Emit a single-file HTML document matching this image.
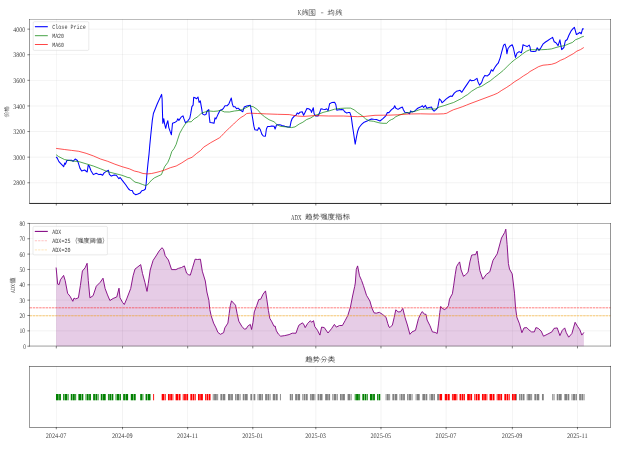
<!DOCTYPE html>
<html><head><meta charset="utf-8"><title>chart</title>
<style>html,body{margin:0;padding:0;background:#fff;}svg{display:block;font-family:"Liberation Serif",serif;will-change:transform;}svg text{text-rendering:geometricPrecision;}</style></head><body>
<svg width="627" height="451" viewBox="0 0 627 451">
<rect x="0" y="0" width="627" height="451" fill="#ffffff"/>
<defs>
<path id="g_xian" d="M3,1 L1.5,3.5 L3.5,3.5 L1,6.5 L3.8,6 M0.8,9 L3.8,7.8 M4.5,3.5 L9,3 M4.5,5.8 L9,5.2 M6,1 Q6.5,6 9.5,9.5 M9,6.5 L7,9 M8,1 L9,2" fill="none" stroke="#000" stroke-width="0.8" stroke-linecap="round" stroke-linejoin="round"/>
<path id="g_tu" d="M1,1 H9 V9.5 H1 Z M4.5,2.5 L3,4.5 M4,3 H6.5 L3,7 M4.5,4.5 L7.5,7 M4.5,6.5 L6,7.2 M4.5,8 L6,8.6" fill="none" stroke="#000" stroke-width="0.8" stroke-linecap="round" stroke-linejoin="round"/>
<path id="g_jun" d="M0.8,4 H4 M2.4,1.5 V7.5 M0.5,8 L4.2,7 M6,1 L4.8,4 M5.5,2.5 H9 Q9.3,8 8.5,9.5 L7.5,9 M6,4.5 L7,5.2 M5.3,7.2 L7.5,6.2" fill="none" stroke="#000" stroke-width="0.8" stroke-linecap="round" stroke-linejoin="round"/>
<path id="g_qu" d="M1,2.5 H4.5 M2.7,1 V4.5 M0.8,4.5 H4.8 M2.7,4.5 V7.5 M2.7,6 H4.3 M1.5,6 Q1.5,8 0.5,9 M1.5,7.8 Q4,9.5 9.5,9.3 M6.5,1 L5.3,3 M6,2 H8.5 L8,3.5 M5.5,4 H9 V7.5 H5.5 M5.8,5.7 H9" fill="none" stroke="#000" stroke-width="0.8" stroke-linecap="round" stroke-linejoin="round"/>
<path id="g_shi" d="M0.8,2.5 H4 M2.4,1 V5 Q2.4,5.5 1.6,5.3 M0.8,4.6 L4,3.6 M5,2.5 H8 Q8,5 9.5,5.2 M6.5,1 Q6.5,4 4.5,5.5 M6,3.8 L7,4.5 M1.5,7 H8 Q8,9.5 6.5,9.5 M4.8,5.8 Q4.5,8.5 1.2,9.6" fill="none" stroke="#000" stroke-width="0.8" stroke-linecap="round" stroke-linejoin="round"/>
<path id="g_qiang" d="M0.8,1.5 H3.5 V3.5 H1 V5.5 H3.8 Q3.8,9 2.5,9.3 M5.2,1.2 H9 V3.2 H5.2 Z M5,4.5 H9.2 V6.8 H5 Z M7.1,3.2 V8.6 M4.8,8.8 L9.5,8.4 M8.6,7.6 L9.4,9" fill="none" stroke="#000" stroke-width="0.8" stroke-linecap="round" stroke-linejoin="round"/>
<path id="g_du" d="M5,0.5 V1.6 M1.5,1.6 H9.5 M1.5,1.6 Q1.5,7 0.5,9.5 M2.8,3.5 H9 M4.2,2.5 V5.3 M7.2,2.5 V5.3 M4.2,5.3 H7.2 M3.2,6.5 H8 Q6.5,9 2.5,9.7 M4,7 Q6,9 9.5,9.6" fill="none" stroke="#000" stroke-width="0.8" stroke-linecap="round" stroke-linejoin="round"/>
<path id="g_zhi3" d="M0.6,2.8 H3.8 M2.2,0.8 V8.6 Q2.2,9.3 1.2,9 M0.6,6 L3.8,4.8 M5.2,0.8 V3.3 Q5.2,4 9,3.8 V3 M8.5,1.2 L5.2,2.4 M5.2,5 H9 V9.3 H5.2 Z M5.2,7.1 H9" fill="none" stroke="#000" stroke-width="0.8" stroke-linecap="round" stroke-linejoin="round"/>
<path id="g_biao" d="M0.5,3 H4.2 M2.3,0.8 V9.5 M2.3,3.2 Q1.8,5.5 0.4,6.8 M2.4,3.8 L3.8,5.4 M5.3,1.8 H8.8 M4.6,4.2 H9.6 M7.1,4.2 V9 Q7.1,9.6 6.2,9.3 M5.6,5.8 L4.6,8.2 M8.6,5.8 L9.6,8" fill="none" stroke="#000" stroke-width="0.8" stroke-linecap="round" stroke-linejoin="round"/>
<path id="g_fen" d="M4,1 Q3,4 0.5,5.8 M6,1 Q7,4 9.7,5.6 M2.8,5.5 H7.5 Q7.5,9.3 6.2,9.4 M4.8,5.5 Q4.5,8.5 1.8,9.6" fill="none" stroke="#000" stroke-width="0.8" stroke-linecap="round" stroke-linejoin="round"/>
<path id="g_lei" d="M5,0.6 V5.2 M1,3 H9 M2.6,1 L3.6,2.3 M7.4,1 L6.4,2.3 M4.8,3.2 Q3.5,4.8 0.8,5.4 M5.2,3.2 Q6.5,4.8 9.2,5.2 M0.8,6.8 H9.2 M5,5.6 Q4.8,8.5 0.8,9.6 M5.1,7 Q6.5,9 9.4,9.6" fill="none" stroke="#000" stroke-width="0.8" stroke-linecap="round" stroke-linejoin="round"/>
<path id="g_jia" d="M2.8,0.8 Q2,3 0.5,4.6 M2,3.2 V9.6 M6.5,0.8 Q5.5,3.2 3.6,4.6 M6.6,1 Q7.5,3 9.7,4.4 M5.3,4.8 Q5.3,8 4,9.5 M7.9,4.8 V9.6" fill="none" stroke="#000" stroke-width="0.8" stroke-linecap="round" stroke-linejoin="round"/>
<path id="g_ge" d="M0.5,3 H4.2 M2.3,0.8 V9.5 M2.3,3.2 Q1.8,5.5 0.4,6.8 M2.4,3.8 L3.8,5.4 M6.3,0.8 Q5.8,2.2 4.6,3.2 M6,1.8 H8.6 Q7.5,4.2 4.4,5.6 M5.8,2.8 Q7.2,4.5 9.8,5.4 M5.4,6.2 H8.9 V9.4 H5.4 Z" fill="none" stroke="#000" stroke-width="0.8" stroke-linecap="round" stroke-linejoin="round"/>
<path id="g_zhi2" d="M2.8,0.8 Q2,3 0.5,4.6 M2,3.2 V9.6 M3.8,2 H9.6 M6.7,0.6 V3 M4.8,3.2 H8.8 V8.6 H4.8 Z M4.8,5 H8.8 M4.8,6.8 H8.8 M3.6,9.4 H9.8" fill="none" stroke="#000" stroke-width="0.8" stroke-linecap="round" stroke-linejoin="round"/>
<path id="g_yu" d="M1.2,0.8 L2,1.8 M1,2.6 V9.6 M3,1.4 H9 V9 Q9,9.6 8,9.4 M2.6,4 H7.8 M3,5.2 H5 V6.8 H3 Z M2.6,8.4 L5.2,7.8 M5.8,2.8 Q6.2,6.5 8,8.6 M7.6,5.6 L6,8.2 M7,3 L7.6,3.6" fill="none" stroke="#000" stroke-width="0.8" stroke-linecap="round" stroke-linejoin="round"/>
<path id="g_lp" d="M3.8,0.5 Q1.0,5 3.8,9.8" fill="none" stroke="#000" stroke-width="0.8" stroke-linecap="round" stroke-linejoin="round"/>
<path id="g_rp" d="M1.2,0.5 Q4.0,5 1.2,9.8" fill="none" stroke="#000" stroke-width="0.8" stroke-linecap="round" stroke-linejoin="round"/>
</defs>
<line x1="56.30" y1="19.3" x2="56.30" y2="203.3" stroke="#b0b0b0" stroke-width="0.5" opacity="0.3"/>
<line x1="122.52" y1="19.3" x2="122.52" y2="203.3" stroke="#b0b0b0" stroke-width="0.5" opacity="0.3"/>
<line x1="187.66" y1="19.3" x2="187.66" y2="203.3" stroke="#b0b0b0" stroke-width="0.5" opacity="0.3"/>
<line x1="252.81" y1="19.3" x2="252.81" y2="203.3" stroke="#b0b0b0" stroke-width="0.5" opacity="0.3"/>
<line x1="315.82" y1="19.3" x2="315.82" y2="203.3" stroke="#b0b0b0" stroke-width="0.5" opacity="0.3"/>
<line x1="380.97" y1="19.3" x2="380.97" y2="203.3" stroke="#b0b0b0" stroke-width="0.5" opacity="0.3"/>
<line x1="446.12" y1="19.3" x2="446.12" y2="203.3" stroke="#b0b0b0" stroke-width="0.5" opacity="0.3"/>
<line x1="512.34" y1="19.3" x2="512.34" y2="203.3" stroke="#b0b0b0" stroke-width="0.5" opacity="0.3"/>
<line x1="577.48" y1="19.3" x2="577.48" y2="203.3" stroke="#b0b0b0" stroke-width="0.5" opacity="0.3"/>
<line x1="29.6" y1="182.77" x2="610.5" y2="182.77" stroke="#b0b0b0" stroke-width="0.5" opacity="0.3"/>
<line x1="29.6" y1="157.16" x2="610.5" y2="157.16" stroke="#b0b0b0" stroke-width="0.5" opacity="0.3"/>
<line x1="29.6" y1="131.55" x2="610.5" y2="131.55" stroke="#b0b0b0" stroke-width="0.5" opacity="0.3"/>
<line x1="29.6" y1="105.95" x2="610.5" y2="105.95" stroke="#b0b0b0" stroke-width="0.5" opacity="0.3"/>
<line x1="29.6" y1="80.34" x2="610.5" y2="80.34" stroke="#b0b0b0" stroke-width="0.5" opacity="0.3"/>
<line x1="29.6" y1="54.74" x2="610.5" y2="54.74" stroke="#b0b0b0" stroke-width="0.5" opacity="0.3"/>
<line x1="29.6" y1="29.13" x2="610.5" y2="29.13" stroke="#b0b0b0" stroke-width="0.5" opacity="0.3"/>
<clipPath id="c1"><rect x="29.6" y="19.3" width="580.90" height="184.00"/></clipPath>
<g clip-path="url(#c1)">
<polyline points="56.1,157.0 57.2,158.0 58.9,161.6 61.3,164.2 63.7,166.7 64.7,163.1 65.4,164.2 66.9,160.5 69.5,160.2 71.6,160.2 73.1,161.3 75.2,159.0 77.4,160.5 78.4,163.1 79.9,168.1 81.7,171.0 84.6,170.0 87.2,172.0 88.2,165.2 89.2,166.0 91.1,171.0 93.3,174.6 96.2,173.2 99.0,174.6 100.8,174.3 102.6,175.3 104.1,172.9 106.3,171.4 108.4,170.3 109.4,174.3 111.3,176.1 114.2,174.9 116.3,175.3 118.9,178.7 120.2,177.5 122.1,180.1 125.7,184.7 128.6,189.0 130.0,190.2 132.2,190.5 133.6,193.4 135.8,194.8 137.9,194.1 140.1,193.1 141.8,190.8 143.7,190.2 145.4,189.0 146.2,183.3 147.0,173.2 148.0,163.1 149.0,154.4 149.8,145.0 150.8,134.8 152.3,120.4 153.4,113.5 157.3,103.8 161.6,94.4 162.1,98.8 162.5,113.2 162.8,123.3 163.8,118.7 164.5,123.3 165.7,128.3 166.7,124.0 167.8,120.7 168.8,127.6 170.3,131.9 171.4,134.8 172.5,123.3 174.6,122.6 176.8,121.1 177.8,118.7 178.9,120.4 181.1,117.2 183.0,115.8 184.0,118.9 185.4,122.6 187.6,121.1 189.8,118.2 190.8,113.2 191.9,106.7 193.1,105.2 193.7,97.3 195.5,98.0 196.5,98.8 198.0,97.0 199.1,102.4 200.3,100.9 201.7,108.8 202.5,113.9 204.2,114.9 205.9,114.6 207.1,111.0 208.8,109.6 209.2,116.1 210.0,122.6 212.1,122.8 214.0,123.3 215.0,117.8 216.0,118.9 217.9,114.6 220.0,110.6 222.2,109.6 223.6,108.1 225.0,105.7 227.2,105.7 228.9,103.8 230.1,100.9 231.3,98.0 232.3,103.8 233.3,106.7 235.1,106.7 236.6,108.8 238.0,108.1 240.2,110.0 242.8,111.7 244.2,107.1 246.7,106.0 250.3,105.2 251.0,108.8 252.5,117.5 253.9,126.2 254.9,129.8 257.5,130.2 258.9,127.6 260.4,129.8 261.8,134.1 263.3,136.0 265.4,136.3 266.4,129.0 267.6,126.4 269.8,126.4 271.9,125.9 274.1,126.2 275.1,129.0 276.5,125.0 277.7,124.7 279.9,124.7 282.0,125.4 284.9,126.2 287.8,126.9 290.0,126.9 291.0,121.8 292.1,118.7 294.3,116.1 296.0,115.3 297.2,112.9 298.6,113.9 300.0,112.2 302.2,111.7 303.6,115.3 305.0,112.4 306.9,108.4 308.7,108.8 310.8,110.2 311.5,112.4 313.3,107.8 314.1,113.8 315.6,116.0 318.0,116.0 319.5,113.1 320.9,108.8 323.1,109.2 325.2,109.5 326.7,108.8 328.1,110.7 329.6,103.8 331.7,102.6 334.6,102.3 335.8,104.5 336.8,110.2 338.9,109.8 341.8,109.5 343.3,109.8 344.7,111.7 346.9,113.1 348.3,112.4 349.8,112.4 351.2,116.4 352.2,123.9 353.7,134.0 355.2,144.1 356.5,136.9 357.7,131.2 359.1,127.5 361.3,124.7 364.2,122.2 367.1,121.1 369.2,119.9 371.4,118.9 373.6,119.3 376.4,119.6 380.0,121.0 382.9,118.7 385.8,115.8 387.4,112.6 388.9,112.6 391.5,109.7 393.7,108.0 394.7,105.7 395.9,108.3 398.0,109.4 400.2,108.0 402.4,107.1 403.4,109.7 404.8,112.3 407.4,112.6 409.6,113.8 410.6,110.9 412.0,111.9 414.6,111.2 416.8,109.0 418.2,108.0 420.4,107.1 422.5,105.7 423.6,107.5 425.4,105.4 426.9,108.3 429.0,107.5 431.6,107.1 432.6,109.7 434.1,111.2 436.3,109.4 437.7,107.5 438.4,103.9 439.4,98.9 440.9,100.3 442.0,102.8 444.2,100.8 446.3,98.9 448.9,97.0 450.7,96.0 452.1,96.4 454.3,93.1 456.4,91.3 458.6,90.7 460.0,90.3 461.8,92.3 464.3,88.4 467.2,84.1 470.1,79.8 471.5,80.8 474.4,80.2 477.0,78.3 478.0,81.9 479.5,85.1 481.6,82.6 483.1,78.3 484.8,75.4 487.4,75.9 489.6,74.0 491.4,69.7 492.9,71.1 494.6,67.8 496.8,64.6 498.2,63.2 500.1,58.1 501.8,51.6 503.6,45.1 505.0,44.1 506.2,48.0 506.9,53.8 507.9,48.8 509.8,46.2 512.2,44.7 513.4,48.0 514.5,53.1 515.5,57.4 517.0,53.1 519.1,51.6 521.3,52.8 522.3,49.5 523.0,44.7 524.9,45.6 527.1,46.6 529.2,45.1 530.0,47.0 530.8,51.3 533.6,51.5 535.8,51.2 537.2,47.8 539.0,50.4 541.0,47.6 543.2,43.8 545.5,42.0 547.5,40.8 550.2,38.9 552.6,37.4 554.2,41.7 556.0,42.7 558.1,45.6 559.9,39.8 560.6,43.8 561.7,49.6 563.9,47.5 565.3,41.0 567.2,39.5 568.9,35.2 571.1,30.9 573.0,28.7 574.4,27.3 575.4,30.9 576.4,34.5 578.3,33.5 579.8,32.3 581.2,33.8 582.6,28.7 583.8,29.1" fill="none" stroke="#0000ff" stroke-width="1.05" stroke-linejoin="round" stroke-linecap="butt" opacity="1"/>
<polyline points="56.1,154.7 58.7,156.6 64.4,159.5 71.6,160.9 78.8,161.6 86.1,163.8 93.3,166.0 100.5,168.8 107.7,171.7 114.9,173.5 122.1,175.3 127.9,177.5 130.0,177.8 132.9,180.4 135.0,182.1 138.7,183.0 142.3,184.4 145.1,185.4 147.3,185.0 149.5,182.5 151.6,180.1 154.5,177.8 158.1,176.1 161.4,174.6 162.9,171.0 164.6,166.7 167.8,162.4 169.7,158.0 171.8,151.5 174.0,148.7 176.2,144.3 177.8,139.1 179.7,133.4 182.5,128.3 185.9,123.0 188.3,121.8 191.2,121.8 194.1,118.9 197.7,116.8 201.3,113.2 204.9,112.0 209.2,111.0 213.6,111.4 217.9,111.0 220.5,110.2 224.3,111.9 229.4,112.0 234.4,111.0 240.2,110.3 245.2,108.1 249.6,106.0 253.2,106.7 257.5,109.6 261.1,113.9 264.7,116.8 269.0,119.7 274.1,121.8 277.0,124.7 280.6,126.4 286.3,126.9 291.4,127.6 295.0,126.9 299.3,124.0 302.9,122.2 306.5,119.6 310.8,117.9 314.4,115.6 318.8,114.1 323.1,112.4 328.8,111.0 334.6,109.2 340.4,108.4 346.2,108.1 350.5,108.1 354.1,109.8 357.7,112.7 362.0,115.6 365.6,118.9 369.2,120.8 373.6,121.3 377.9,122.5 380.0,123.0 383.0,123.3 386.8,123.3 388.8,121.0 391.5,119.5 393.0,119.0 395.9,116.6 400.2,114.8 404.5,113.3 410.3,112.3 416.1,110.9 420.4,109.4 426.2,109.0 431.9,109.0 435.5,109.0 439.1,107.1 444.9,105.4 449.2,103.9 453.6,102.5 457.9,100.3 461.5,98.5 465.1,96.0 467.6,94.6 471.5,91.3 477.3,87.7 481.6,86.3 486.0,83.4 490.3,80.8 494.6,77.3 498.9,74.0 503.3,70.4 506.9,66.8 510.5,63.2 514.8,59.6 519.1,56.7 522.7,53.8 526.3,51.3 530.0,49.7 535.8,49.8 541.5,49.7 547.3,49.4 551.6,48.9 556.0,47.5 560.3,46.4 564.6,45.6 568.9,43.8 572.5,42.4 575.4,39.8 579.0,38.4 581.9,36.9 583.8,36.3" fill="none" stroke="#008000" stroke-width="0.8" stroke-linejoin="round" stroke-linecap="butt" opacity="0.85"/>
<polyline points="56.1,148.4 64.4,149.5 71.6,150.4 78.8,151.3 86.1,153.3 93.3,155.9 100.5,159.0 107.7,161.3 114.9,164.2 122.1,166.7 129.3,168.8 134.3,171.0 138.7,172.0 143.0,173.5 147.3,173.9 151.6,173.5 156.0,172.5 160.3,171.4 164.6,170.0 170.4,167.7 176.2,166.0 181.9,162.8 187.7,159.0 192.0,157.3 196.3,153.7 200.7,150.4 203.6,147.2 207.1,145.0 210.7,142.7 215.0,140.3 219.3,137.9 221.0,136.5 223.6,133.6 226.5,130.8 230.1,127.2 233.7,124.0 237.3,120.4 240.9,117.5 243.8,115.8 246.7,113.5 250.3,113.2 257.5,113.5 266.2,113.9 277.7,114.3 289.2,114.6 297.9,116.1 303.7,116.4 314.4,115.6 328.8,116.0 343.3,116.0 357.7,116.7 364.9,116.4 375.0,115.3 383.7,115.2 388.7,115.2 397.3,114.8 408.8,114.0 420.4,113.8 429.0,114.0 437.7,114.0 443.5,113.8 446.6,113.3 450.0,111.4 453.6,109.7 457.9,108.3 462.2,106.8 466.5,105.1 470.0,103.7 493.2,95.0 497.5,93.2 501.8,90.3 506.2,87.7 510.5,84.8 514.8,81.6 519.1,79.0 523.5,75.9 527.8,73.3 530.0,71.5 534.3,69.1 538.7,66.6 543.0,65.2 547.3,64.8 551.6,64.3 556.0,62.9 560.3,60.4 564.6,58.6 568.9,56.1 573.3,53.7 576.9,51.1 580.5,49.6 583.8,47.5" fill="none" stroke="#ff0000" stroke-width="0.8" stroke-linejoin="round" stroke-linecap="butt" opacity="0.85"/>
</g>
<line x1="29.6" y1="19.03" x2="29.6" y2="203.57" stroke="#000" stroke-width="0.58" opacity="0.75"/>
<line x1="610.6" y1="19.03" x2="610.6" y2="203.57" stroke="#000" stroke-width="0.58" opacity="0.8"/>
<line x1="29.33" y1="19.35" x2="610.87" y2="19.35" stroke="#000" stroke-width="0.58" opacity="0.55"/>
<line x1="29.33" y1="203.45" x2="610.87" y2="203.45" stroke="#000" stroke-width="0.85" opacity="1.0"/>
<line x1="56.30" y1="203.3" x2="56.30" y2="205.50" stroke="#000" stroke-width="0.5"/>
<line x1="122.52" y1="203.3" x2="122.52" y2="205.50" stroke="#000" stroke-width="0.5"/>
<line x1="187.66" y1="203.3" x2="187.66" y2="205.50" stroke="#000" stroke-width="0.5"/>
<line x1="252.81" y1="203.3" x2="252.81" y2="205.50" stroke="#000" stroke-width="0.5"/>
<line x1="315.82" y1="203.3" x2="315.82" y2="205.50" stroke="#000" stroke-width="0.5"/>
<line x1="380.97" y1="203.3" x2="380.97" y2="205.50" stroke="#000" stroke-width="0.5"/>
<line x1="446.12" y1="203.3" x2="446.12" y2="205.50" stroke="#000" stroke-width="0.5"/>
<line x1="512.34" y1="203.3" x2="512.34" y2="205.50" stroke="#000" stroke-width="0.5"/>
<line x1="577.48" y1="203.3" x2="577.48" y2="205.50" stroke="#000" stroke-width="0.5"/>
<line x1="27.40" y1="182.77" x2="29.6" y2="182.77" stroke="#000" stroke-width="0.5"/>
<text x="25.1" y="185.47" font-size="7" text-anchor="end" fill="#000" opacity="0.78" textLength="11.8" lengthAdjust="spacingAndGlyphs">2800</text>
<line x1="27.40" y1="157.16" x2="29.6" y2="157.16" stroke="#000" stroke-width="0.5"/>
<text x="25.1" y="159.86" font-size="7" text-anchor="end" fill="#000" opacity="0.78" textLength="11.8" lengthAdjust="spacingAndGlyphs">3000</text>
<line x1="27.40" y1="131.55" x2="29.6" y2="131.55" stroke="#000" stroke-width="0.5"/>
<text x="25.1" y="134.25" font-size="7" text-anchor="end" fill="#000" opacity="0.78" textLength="11.8" lengthAdjust="spacingAndGlyphs">3200</text>
<line x1="27.40" y1="105.95" x2="29.6" y2="105.95" stroke="#000" stroke-width="0.5"/>
<text x="25.1" y="108.65" font-size="7" text-anchor="end" fill="#000" opacity="0.78" textLength="11.8" lengthAdjust="spacingAndGlyphs">3400</text>
<line x1="27.40" y1="80.34" x2="29.6" y2="80.34" stroke="#000" stroke-width="0.5"/>
<text x="25.1" y="83.04" font-size="7" text-anchor="end" fill="#000" opacity="0.78" textLength="11.8" lengthAdjust="spacingAndGlyphs">3600</text>
<line x1="27.40" y1="54.74" x2="29.6" y2="54.74" stroke="#000" stroke-width="0.5"/>
<text x="25.1" y="57.44" font-size="7" text-anchor="end" fill="#000" opacity="0.78" textLength="11.8" lengthAdjust="spacingAndGlyphs">3800</text>
<line x1="27.40" y1="29.13" x2="29.6" y2="29.13" stroke="#000" stroke-width="0.5"/>
<text x="25.1" y="31.83" font-size="7" text-anchor="end" fill="#000" opacity="0.78" textLength="11.8" lengthAdjust="spacingAndGlyphs">4000</text>
<rect x="33.2" y="21.7" width="55.6" height="28.7" rx="1.2" fill="#fff" fill-opacity="0.8" stroke="#ccc" stroke-width="0.5" stroke-opacity="0.8"/>
<line x1="34.9" y1="26.7" x2="47.8" y2="26.7" stroke="#0000ff" stroke-width="1.1" opacity="1"/>
<text x="52.2" y="29.40" font-size="6.3" font-family="Liberation Mono, monospace" fill="#000" opacity="0.78" textLength="33.6" lengthAdjust="spacingAndGlyphs">Close Price</text>
<line x1="34.9" y1="35.7" x2="47.8" y2="35.7" stroke="#008000" stroke-width="1.0" opacity="0.72"/>
<text x="52.2" y="38.40" font-size="6.3" font-family="Liberation Mono, monospace" fill="#000" opacity="0.78" textLength="11.8" lengthAdjust="spacingAndGlyphs">MA20</text>
<line x1="34.9" y1="44.5" x2="47.8" y2="44.5" stroke="#ff0000" stroke-width="1.0" opacity="0.72"/>
<text x="52.2" y="47.20" font-size="6.3" font-family="Liberation Mono, monospace" fill="#000" opacity="0.78" textLength="11.8" lengthAdjust="spacingAndGlyphs">MA60</text>
<text x="297.8" y="15.20" font-size="7.5" fill="#000" opacity="0.78" textLength="3.4" lengthAdjust="spacingAndGlyphs">K</text>
<use href="#g_xian" transform="translate(301.35,8.90) scale(0.6900)" opacity="0.7"/><use href="#g_tu" transform="translate(308.85,8.90) scale(0.6900)" opacity="0.7"/>
<line x1="320.95" y1="12.8" x2="323.35" y2="12.8" stroke="#000" stroke-width="0.5" opacity="0.8"/>
<use href="#g_jun" transform="translate(327.60,8.90) scale(0.6900)" opacity="0.7"/><use href="#g_xian" transform="translate(335.10,8.90) scale(0.6900)" opacity="0.7"/>
<g transform="translate(7.0,111.5) rotate(-90)"><use href="#g_jia" transform="translate(-5.50,-3.00) scale(0.5060)" opacity="0.7"/><use href="#g_ge" transform="translate(0.00,-3.00) scale(0.5060)" opacity="0.7"/></g>
<line x1="56.30" y1="223.4" x2="56.30" y2="346.2" stroke="#b0b0b0" stroke-width="0.5" opacity="0.3"/>
<line x1="122.52" y1="223.4" x2="122.52" y2="346.2" stroke="#b0b0b0" stroke-width="0.5" opacity="0.3"/>
<line x1="187.66" y1="223.4" x2="187.66" y2="346.2" stroke="#b0b0b0" stroke-width="0.5" opacity="0.3"/>
<line x1="252.81" y1="223.4" x2="252.81" y2="346.2" stroke="#b0b0b0" stroke-width="0.5" opacity="0.3"/>
<line x1="315.82" y1="223.4" x2="315.82" y2="346.2" stroke="#b0b0b0" stroke-width="0.5" opacity="0.3"/>
<line x1="380.97" y1="223.4" x2="380.97" y2="346.2" stroke="#b0b0b0" stroke-width="0.5" opacity="0.3"/>
<line x1="446.12" y1="223.4" x2="446.12" y2="346.2" stroke="#b0b0b0" stroke-width="0.5" opacity="0.3"/>
<line x1="512.34" y1="223.4" x2="512.34" y2="346.2" stroke="#b0b0b0" stroke-width="0.5" opacity="0.3"/>
<line x1="577.48" y1="223.4" x2="577.48" y2="346.2" stroke="#b0b0b0" stroke-width="0.5" opacity="0.3"/>
<line x1="29.6" y1="346.20" x2="610.5" y2="346.20" stroke="#b0b0b0" stroke-width="0.5" opacity="0.3"/>
<line x1="29.6" y1="330.85" x2="610.5" y2="330.85" stroke="#b0b0b0" stroke-width="0.5" opacity="0.3"/>
<line x1="29.6" y1="315.50" x2="610.5" y2="315.50" stroke="#b0b0b0" stroke-width="0.5" opacity="0.3"/>
<line x1="29.6" y1="300.15" x2="610.5" y2="300.15" stroke="#b0b0b0" stroke-width="0.5" opacity="0.3"/>
<line x1="29.6" y1="284.80" x2="610.5" y2="284.80" stroke="#b0b0b0" stroke-width="0.5" opacity="0.3"/>
<line x1="29.6" y1="269.45" x2="610.5" y2="269.45" stroke="#b0b0b0" stroke-width="0.5" opacity="0.3"/>
<line x1="29.6" y1="254.10" x2="610.5" y2="254.10" stroke="#b0b0b0" stroke-width="0.5" opacity="0.3"/>
<line x1="29.6" y1="238.75" x2="610.5" y2="238.75" stroke="#b0b0b0" stroke-width="0.5" opacity="0.3"/>
<line x1="29.6" y1="223.40" x2="610.5" y2="223.40" stroke="#b0b0b0" stroke-width="0.5" opacity="0.3"/>
<path d="M56.1,267.5 L57.7,284.1 L59.1,284.6 L60.4,279.8 L63.6,275.4 L65.2,280.6 L67.6,293.3 L70.0,296.2 L72.8,301.3 L74.0,298.1 L75.6,298.9 L78.4,297.8 L80.4,285.4 L82.4,271.0 L85.1,267.8 L87.1,263.3 L88.3,280.6 L89.9,297.8 L93.1,295.7 L96.3,286.2 L100.3,282.2 L103.0,278.2 L105.1,288.5 L107.5,294.9 L109.9,300.5 L113.1,298.5 L116.8,296.9 L119.0,288.2 L120.0,297.8 L122.7,302.6 L124.3,304.5 L126.7,298.9 L130.7,288.5 L133.1,275.8 L135.0,269.1 L140.7,264.6 L142.5,273.5 L144.9,282.3 L147.0,291.4 L148.3,283.3 L150.2,270.0 L153.1,260.4 L156.0,256.0 L159.2,250.9 L162.0,247.7 L163.6,249.6 L165.2,255.7 L168.4,260.0 L171.6,269.6 L175.9,269.6 L178.3,268.4 L181.5,267.5 L184.4,265.9 L186.6,273.2 L188.7,274.8 L190.3,275.1 L192.7,267.2 L195.1,259.2 L197.5,259.5 L200.4,259.2 L202.3,271.2 L205.3,281.0 L206.9,292.0 L208.9,300.4 L209.8,309.5 L211.2,315.9 L213.6,323.1 L216.0,327.9 L217.9,332.4 L220.4,334.3 L223.6,332.7 L224.8,327.9 L227.9,323.1 L229.2,313.5 L230.3,305.6 L231.5,300.8 L235.5,305.2 L237.1,313.5 L238.8,321.2 L241.8,326.3 L244.4,329.2 L246.3,328.7 L247.6,326.3 L250.3,324.4 L251.6,329.5 L253.0,322.3 L254.3,311.9 L256.7,305.6 L258.8,299.5 L260.7,299.2 L263.1,294.1 L265.5,290.9 L266.8,299.2 L268.4,310.4 L269.8,318.3 L271.9,321.9 L274.0,326.3 L275.1,326.0 L276.4,330.8 L278.3,334.0 L280.7,336.2 L284.7,335.6 L289.1,334.6 L292.2,333.2 L296.0,333.2 L297.8,327.9 L298.9,325.2 L302.5,322.8 L304.1,325.0 L305.2,327.6 L307.6,323.5 L310.4,320.7 L311.6,322.3 L313.5,320.7 L314.8,326.6 L317.5,330.3 L319.9,335.1 L321.6,327.1 L324.3,327.6 L328.0,333.0 L331.5,328.7 L334.4,324.4 L336.3,327.1 L339.5,325.5 L342.4,325.5 L345.1,320.7 L347.8,315.5 L350.4,307.2 L352.6,296.0 L354.7,286.4 L355.3,283.0 L356.3,269.4 L357.6,265.9 L359.5,275.8 L361.6,280.5 L363.4,285.5 L366.5,295.3 L369.9,301.0 L371.8,307.8 L374.0,312.8 L376.3,313.2 L379.3,312.3 L382.5,314.4 L386.0,317.2 L387.8,323.6 L389.0,327.0 L389.9,327.6 L392.4,325.0 L394.2,317.4 L395.8,309.8 L398.1,311.9 L400.5,311.8 L402.8,308.4 L405.0,317.4 L407.4,325.0 L409.9,334.3 L412.0,331.9 L415.5,330.3 L418.5,318.5 L420.7,313.9 L422.3,311.6 L424.4,314.2 L426.0,314.3 L427.1,320.0 L430.0,325.8 L432.4,331.9 L435.1,332.4 L437.2,333.5 L438.6,323.1 L439.8,312.5 L440.7,306.4 L442.3,308.4 L444.7,309.6 L447.1,307.5 L448.4,305.6 L449.5,299.2 L451.1,296.0 L452.4,293.8 L453.6,285.9 L455.2,274.7 L456.5,266.7 L458.4,263.5 L459.6,261.9 L461.1,269.9 L463.5,276.3 L465.6,274.7 L468.0,272.3 L469.9,261.9 L471.6,255.2 L473.5,254.7 L475.5,254.7 L477.1,251.1 L478.3,260.3 L479.9,270.7 L482.8,279.2 L486.3,274.4 L489.8,271.8 L493.0,260.3 L497.2,253.9 L501.5,238.0 L504.7,232.4 L505.8,229.2 L507.1,244.4 L508.4,263.5 L509.5,269.1 L512.2,273.9 L513.3,283.0 L514.5,293.2 L515.5,307.2 L516.8,317.1 L519.5,323.9 L521.9,332.7 L524.0,327.9 L526.8,327.6 L528.8,329.8 L531.6,331.9 L534.3,331.9 L535.9,327.6 L538.3,328.4 L541.2,331.1 L543.5,336.2 L547.9,334.0 L551.9,331.9 L554.0,328.4 L557.2,327.9 L559.9,335.6 L562.3,330.3 L564.7,327.9 L566.3,332.7 L568.7,337.2 L571.9,333.5 L575.1,322.3 L577.5,326.3 L579.9,329.8 L581.8,335.1 L583.9,332.4 L583.9,346.2 L56.1,346.2 Z" fill="#800080" fill-opacity="0.2" stroke="none"/>
<polyline points="56.1,267.5 57.7,284.1 59.1,284.6 60.4,279.8 63.6,275.4 65.2,280.6 67.6,293.3 70.0,296.2 72.8,301.3 74.0,298.1 75.6,298.9 78.4,297.8 80.4,285.4 82.4,271.0 85.1,267.8 87.1,263.3 88.3,280.6 89.9,297.8 93.1,295.7 96.3,286.2 100.3,282.2 103.0,278.2 105.1,288.5 107.5,294.9 109.9,300.5 113.1,298.5 116.8,296.9 119.0,288.2 120.0,297.8 122.7,302.6 124.3,304.5 126.7,298.9 130.7,288.5 133.1,275.8 135.0,269.1 140.7,264.6 142.5,273.5 144.9,282.3 147.0,291.4 148.3,283.3 150.2,270.0 153.1,260.4 156.0,256.0 159.2,250.9 162.0,247.7 163.6,249.6 165.2,255.7 168.4,260.0 171.6,269.6 175.9,269.6 178.3,268.4 181.5,267.5 184.4,265.9 186.6,273.2 188.7,274.8 190.3,275.1 192.7,267.2 195.1,259.2 197.5,259.5 200.4,259.2 202.3,271.2 205.3,281.0 206.9,292.0 208.9,300.4 209.8,309.5 211.2,315.9 213.6,323.1 216.0,327.9 217.9,332.4 220.4,334.3 223.6,332.7 224.8,327.9 227.9,323.1 229.2,313.5 230.3,305.6 231.5,300.8 235.5,305.2 237.1,313.5 238.8,321.2 241.8,326.3 244.4,329.2 246.3,328.7 247.6,326.3 250.3,324.4 251.6,329.5 253.0,322.3 254.3,311.9 256.7,305.6 258.8,299.5 260.7,299.2 263.1,294.1 265.5,290.9 266.8,299.2 268.4,310.4 269.8,318.3 271.9,321.9 274.0,326.3 275.1,326.0 276.4,330.8 278.3,334.0 280.7,336.2 284.7,335.6 289.1,334.6 292.2,333.2 296.0,333.2 297.8,327.9 298.9,325.2 302.5,322.8 304.1,325.0 305.2,327.6 307.6,323.5 310.4,320.7 311.6,322.3 313.5,320.7 314.8,326.6 317.5,330.3 319.9,335.1 321.6,327.1 324.3,327.6 328.0,333.0 331.5,328.7 334.4,324.4 336.3,327.1 339.5,325.5 342.4,325.5 345.1,320.7 347.8,315.5 350.4,307.2 352.6,296.0 354.7,286.4 355.3,283.0 356.3,269.4 357.6,265.9 359.5,275.8 361.6,280.5 363.4,285.5 366.5,295.3 369.9,301.0 371.8,307.8 374.0,312.8 376.3,313.2 379.3,312.3 382.5,314.4 386.0,317.2 387.8,323.6 389.0,327.0 389.9,327.6 392.4,325.0 394.2,317.4 395.8,309.8 398.1,311.9 400.5,311.8 402.8,308.4 405.0,317.4 407.4,325.0 409.9,334.3 412.0,331.9 415.5,330.3 418.5,318.5 420.7,313.9 422.3,311.6 424.4,314.2 426.0,314.3 427.1,320.0 430.0,325.8 432.4,331.9 435.1,332.4 437.2,333.5 438.6,323.1 439.8,312.5 440.7,306.4 442.3,308.4 444.7,309.6 447.1,307.5 448.4,305.6 449.5,299.2 451.1,296.0 452.4,293.8 453.6,285.9 455.2,274.7 456.5,266.7 458.4,263.5 459.6,261.9 461.1,269.9 463.5,276.3 465.6,274.7 468.0,272.3 469.9,261.9 471.6,255.2 473.5,254.7 475.5,254.7 477.1,251.1 478.3,260.3 479.9,270.7 482.8,279.2 486.3,274.4 489.8,271.8 493.0,260.3 497.2,253.9 501.5,238.0 504.7,232.4 505.8,229.2 507.1,244.4 508.4,263.5 509.5,269.1 512.2,273.9 513.3,283.0 514.5,293.2 515.5,307.2 516.8,317.1 519.5,323.9 521.9,332.7 524.0,327.9 526.8,327.6 528.8,329.8 531.6,331.9 534.3,331.9 535.9,327.6 538.3,328.4 541.2,331.1 543.5,336.2 547.9,334.0 551.9,331.9 554.0,328.4 557.2,327.9 559.9,335.6 562.3,330.3 564.7,327.9 566.3,332.7 568.7,337.2 571.9,333.5 575.1,322.3 577.5,326.3 579.9,329.8 581.8,335.1 583.9,332.4" fill="none" stroke="#800080" stroke-width="0.9" stroke-linejoin="round" stroke-linecap="butt" opacity="1"/>
<line x1="29.6" y1="307.82" x2="610.5" y2="307.82" stroke="#ff0000" stroke-width="1.0" stroke-dasharray="2.45 0.75" opacity="0.5"/>
<line x1="29.6" y1="315.80" x2="610.5" y2="315.80" stroke="#ffa500" stroke-width="1.0" stroke-dasharray="2.45 0.75" opacity="0.55"/>
<line x1="29.6" y1="223.13" x2="29.6" y2="346.47" stroke="#000" stroke-width="0.58" opacity="0.75"/>
<line x1="610.6" y1="223.13" x2="610.6" y2="346.47" stroke="#000" stroke-width="0.58" opacity="0.8"/>
<line x1="29.33" y1="223.50" x2="610.87" y2="223.50" stroke="#000" stroke-width="0.58" opacity="0.5"/>
<line x1="29.33" y1="346.05" x2="610.87" y2="346.05" stroke="#000" stroke-width="0.58" opacity="0.6"/>
<line x1="56.30" y1="346.2" x2="56.30" y2="348.40" stroke="#000" stroke-width="0.5"/>
<line x1="122.52" y1="346.2" x2="122.52" y2="348.40" stroke="#000" stroke-width="0.5"/>
<line x1="187.66" y1="346.2" x2="187.66" y2="348.40" stroke="#000" stroke-width="0.5"/>
<line x1="252.81" y1="346.2" x2="252.81" y2="348.40" stroke="#000" stroke-width="0.5"/>
<line x1="315.82" y1="346.2" x2="315.82" y2="348.40" stroke="#000" stroke-width="0.5"/>
<line x1="380.97" y1="346.2" x2="380.97" y2="348.40" stroke="#000" stroke-width="0.5"/>
<line x1="446.12" y1="346.2" x2="446.12" y2="348.40" stroke="#000" stroke-width="0.5"/>
<line x1="512.34" y1="346.2" x2="512.34" y2="348.40" stroke="#000" stroke-width="0.5"/>
<line x1="577.48" y1="346.2" x2="577.48" y2="348.40" stroke="#000" stroke-width="0.5"/>
<line x1="27.40" y1="346.20" x2="29.6" y2="346.20" stroke="#000" stroke-width="0.5"/>
<text x="26.0" y="349.20" font-size="7" text-anchor="end" fill="#000" opacity="0.78" textLength="2.7" lengthAdjust="spacingAndGlyphs">0</text>
<line x1="27.40" y1="330.85" x2="29.6" y2="330.85" stroke="#000" stroke-width="0.5"/>
<text x="25.15" y="333.35" font-size="7" text-anchor="end" fill="#000" opacity="0.78" textLength="5.6" lengthAdjust="spacingAndGlyphs">10</text>
<line x1="27.40" y1="315.50" x2="29.6" y2="315.50" stroke="#000" stroke-width="0.5"/>
<text x="25.15" y="318.00" font-size="7" text-anchor="end" fill="#000" opacity="0.78" textLength="5.6" lengthAdjust="spacingAndGlyphs">20</text>
<line x1="27.40" y1="300.15" x2="29.6" y2="300.15" stroke="#000" stroke-width="0.5"/>
<text x="25.15" y="302.65" font-size="7" text-anchor="end" fill="#000" opacity="0.78" textLength="5.6" lengthAdjust="spacingAndGlyphs">30</text>
<line x1="27.40" y1="284.80" x2="29.6" y2="284.80" stroke="#000" stroke-width="0.5"/>
<text x="25.15" y="287.30" font-size="7" text-anchor="end" fill="#000" opacity="0.78" textLength="5.6" lengthAdjust="spacingAndGlyphs">40</text>
<line x1="27.40" y1="269.45" x2="29.6" y2="269.45" stroke="#000" stroke-width="0.5"/>
<text x="25.15" y="271.95" font-size="7" text-anchor="end" fill="#000" opacity="0.78" textLength="5.6" lengthAdjust="spacingAndGlyphs">50</text>
<line x1="27.40" y1="254.10" x2="29.6" y2="254.10" stroke="#000" stroke-width="0.5"/>
<text x="25.15" y="256.60" font-size="7" text-anchor="end" fill="#000" opacity="0.78" textLength="5.6" lengthAdjust="spacingAndGlyphs">60</text>
<line x1="27.40" y1="238.75" x2="29.6" y2="238.75" stroke="#000" stroke-width="0.5"/>
<text x="25.15" y="241.25" font-size="7" text-anchor="end" fill="#000" opacity="0.78" textLength="5.6" lengthAdjust="spacingAndGlyphs">70</text>
<line x1="27.40" y1="223.40" x2="29.6" y2="223.40" stroke="#000" stroke-width="0.5"/>
<text x="25.15" y="225.90" font-size="7" text-anchor="end" fill="#000" opacity="0.78" textLength="5.6" lengthAdjust="spacingAndGlyphs">80</text>
<rect x="33.0" y="226.4" width="74.4" height="28.5" rx="1.2" fill="#fff" fill-opacity="0.8" stroke="#ccc" stroke-width="0.5" stroke-opacity="0.8"/>
<line x1="34.8" y1="231.4" x2="47.8" y2="231.4" stroke="#800080" stroke-width="1.05"/>
<text x="52.3" y="233.8" font-size="6.3" font-family="Liberation Mono, monospace" fill="#000" opacity="0.78" textLength="8.8" lengthAdjust="spacingAndGlyphs">ADX</text>
<line x1="34.8" y1="240.75" x2="47.8" y2="240.75" stroke="#ff0000" stroke-width="0.9" stroke-dasharray="2.3 1.0" opacity="0.27"/>
<text x="52.3" y="242.9" font-size="6.3" font-family="Liberation Mono, monospace" fill="#000" opacity="0.78" textLength="18.2" lengthAdjust="spacingAndGlyphs">ADX=25</text>
<use href="#g_lp" transform="translate(74.4,237.5) scale(0.60)" opacity="0.7"/>
<use href="#g_qiang" transform="translate(77.40,237.60) scale(0.5750)" opacity="0.72"/><use href="#g_du" transform="translate(83.65,237.60) scale(0.5750)" opacity="0.72"/><use href="#g_yu" transform="translate(89.90,237.60) scale(0.5750)" opacity="0.72"/><use href="#g_zhi2" transform="translate(96.15,237.60) scale(0.5750)" opacity="0.72"/>
<use href="#g_rp" transform="translate(102.4,237.5) scale(0.60)" opacity="0.7"/>
<line x1="34.8" y1="249.9" x2="47.8" y2="249.9" stroke="#ffa500" stroke-width="0.9" stroke-dasharray="2.3 1.0" opacity="0.3"/>
<text x="52.3" y="252.0" font-size="6.3" font-family="Liberation Mono, monospace" fill="#000" opacity="0.78" textLength="18.2" lengthAdjust="spacingAndGlyphs">ADX=20</text>
<text x="290.90000000000003" y="219.50" font-size="7.5" fill="#000" opacity="0.78" textLength="10.6" lengthAdjust="spacingAndGlyphs">ADX</text>
<use href="#g_qu" transform="translate(305.30,213.20) scale(0.6900)" opacity="0.7"/><use href="#g_shi" transform="translate(312.80,213.20) scale(0.6900)" opacity="0.7"/><use href="#g_qiang" transform="translate(320.30,213.20) scale(0.6900)" opacity="0.7"/><use href="#g_du" transform="translate(327.80,213.20) scale(0.6900)" opacity="0.7"/><use href="#g_zhi3" transform="translate(335.30,213.20) scale(0.6900)" opacity="0.7"/><use href="#g_biao" transform="translate(342.80,213.20) scale(0.6900)" opacity="0.7"/>
<g transform="translate(12.8,285.3) rotate(-90)"><text x="-7.6" y="2.2" font-size="6.3" fill="#000" opacity="0.78" textLength="8.8" lengthAdjust="spacingAndGlyphs">ADX</text><use href="#g_zhi2" transform="translate(1.60,-3.20) scale(0.5750)" opacity="0.7"/></g>
<line x1="56.30" y1="366.2" x2="56.30" y2="427.1" stroke="#b0b0b0" stroke-width="0.5" opacity="0.3"/>
<line x1="122.52" y1="366.2" x2="122.52" y2="427.1" stroke="#b0b0b0" stroke-width="0.5" opacity="0.3"/>
<line x1="187.66" y1="366.2" x2="187.66" y2="427.1" stroke="#b0b0b0" stroke-width="0.5" opacity="0.3"/>
<line x1="252.81" y1="366.2" x2="252.81" y2="427.1" stroke="#b0b0b0" stroke-width="0.5" opacity="0.3"/>
<line x1="315.82" y1="366.2" x2="315.82" y2="427.1" stroke="#b0b0b0" stroke-width="0.5" opacity="0.3"/>
<line x1="380.97" y1="366.2" x2="380.97" y2="427.1" stroke="#b0b0b0" stroke-width="0.5" opacity="0.3"/>
<line x1="446.12" y1="366.2" x2="446.12" y2="427.1" stroke="#b0b0b0" stroke-width="0.5" opacity="0.3"/>
<line x1="512.34" y1="366.2" x2="512.34" y2="427.1" stroke="#b0b0b0" stroke-width="0.5" opacity="0.3"/>
<line x1="577.48" y1="366.2" x2="577.48" y2="427.1" stroke="#b0b0b0" stroke-width="0.5" opacity="0.3"/>
<rect x="55.99" y="394" width="2.69" height="6.3" fill="#008000"/>
<rect x="59.12" y="394" width="1.79" height="6.3" fill="#008000"/>
<rect x="63.16" y="394" width="0.90" height="6.3" fill="#008000"/>
<rect x="64.50" y="394" width="2.69" height="6.3" fill="#008000"/>
<rect x="67.63" y="394" width="0.90" height="6.3" fill="#008000"/>
<rect x="70.77" y="394" width="1.79" height="6.3" fill="#008000"/>
<rect x="73.01" y="394" width="1.79" height="6.3" fill="#008000"/>
<rect x="75.25" y="394" width="0.90" height="6.3" fill="#008000"/>
<rect x="78.38" y="394" width="2.69" height="6.3" fill="#008000"/>
<rect x="81.52" y="394" width="1.79" height="6.3" fill="#008000"/>
<rect x="85.55" y="394" width="0.90" height="6.3" fill="#008000"/>
<rect x="86.89" y="394" width="1.79" height="6.3" fill="#008000"/>
<rect x="89.13" y="394" width="1.79" height="6.3" fill="#008000"/>
<rect x="93.16" y="394" width="1.79" height="6.3" fill="#008000"/>
<rect x="95.40" y="394" width="1.79" height="6.3" fill="#008000"/>
<rect x="97.64" y="394" width="0.90" height="6.3" fill="#008000"/>
<rect x="100.78" y="394" width="1.79" height="6.3" fill="#008000"/>
<rect x="103.02" y="394" width="2.69" height="6.3" fill="#008000"/>
<rect x="107.95" y="394" width="0.90" height="6.3" fill="#008000"/>
<rect x="109.29" y="394" width="1.79" height="6.3" fill="#008000"/>
<rect x="111.53" y="394" width="1.79" height="6.3" fill="#008000"/>
<rect x="115.56" y="394" width="0.90" height="6.3" fill="#008000"/>
<rect x="116.90" y="394" width="2.69" height="6.3" fill="#008000"/>
<rect x="120.04" y="394" width="0.90" height="6.3" fill="#008000"/>
<rect x="123.17" y="394" width="1.79" height="6.3" fill="#008000"/>
<rect x="125.41" y="394" width="2.69" height="6.3" fill="#008000"/>
<rect x="130.79" y="394" width="2.69" height="6.3" fill="#008000"/>
<rect x="133.92" y="394" width="1.79" height="6.3" fill="#008000"/>
<rect x="140.20" y="394" width="1.79" height="6.3" fill="#008000"/>
<rect x="142.43" y="394" width="0.90" height="6.3" fill="#008000"/>
<rect x="145.57" y="394" width="1.79" height="6.3" fill="#008000"/>
<rect x="147.81" y="394" width="2.69" height="6.3" fill="#008000"/>
<rect x="153.18" y="394" width="0.90" height="6.3" fill="#ff0000"/>
<rect x="161.69" y="394" width="2.69" height="6.3" fill="#ff0000"/>
<rect x="164.83" y="394" width="0.90" height="6.3" fill="#ff0000"/>
<rect x="167.97" y="394" width="1.79" height="6.3" fill="#ff0000"/>
<rect x="170.21" y="394" width="1.79" height="6.3" fill="#ff0000"/>
<rect x="172.44" y="394" width="0.90" height="6.3" fill="#ff0000"/>
<rect x="175.58" y="394" width="2.69" height="6.3" fill="#ff0000"/>
<rect x="178.72" y="394" width="1.79" height="6.3" fill="#ff0000"/>
<rect x="182.75" y="394" width="0.90" height="6.3" fill="#ff0000"/>
<rect x="184.09" y="394" width="1.79" height="6.3" fill="#ff0000"/>
<rect x="186.33" y="394" width="1.79" height="6.3" fill="#ff0000"/>
<rect x="190.36" y="394" width="1.79" height="6.3" fill="#ff0000"/>
<rect x="192.60" y="394" width="1.79" height="6.3" fill="#ff0000"/>
<rect x="194.84" y="394" width="0.90" height="6.3" fill="#ff0000"/>
<rect x="197.98" y="394" width="1.79" height="6.3" fill="#ff0000"/>
<rect x="200.21" y="394" width="2.69" height="6.3" fill="#ff0000"/>
<rect x="205.14" y="394" width="0.90" height="6.3" fill="#ff0000"/>
<rect x="206.49" y="394" width="1.79" height="6.3" fill="#ff0000"/>
<rect x="208.73" y="394" width="1.79" height="6.3" fill="#ff0000"/>
<rect x="212.76" y="394" width="0.90" height="6.3" fill="#808080"/>
<rect x="214.10" y="394" width="2.69" height="6.3" fill="#808080"/>
<rect x="217.24" y="394" width="0.90" height="6.3" fill="#808080"/>
<rect x="220.37" y="394" width="1.79" height="6.3" fill="#808080"/>
<rect x="222.61" y="394" width="2.69" height="6.3" fill="#808080"/>
<rect x="227.99" y="394" width="2.69" height="6.3" fill="#808080"/>
<rect x="231.12" y="394" width="1.79" height="6.3" fill="#808080"/>
<rect x="235.15" y="394" width="0.90" height="6.3" fill="#808080"/>
<rect x="236.50" y="394" width="2.69" height="6.3" fill="#808080"/>
<rect x="239.63" y="394" width="0.90" height="6.3" fill="#808080"/>
<rect x="242.77" y="394" width="1.79" height="6.3" fill="#808080"/>
<rect x="245.01" y="394" width="2.69" height="6.3" fill="#808080"/>
<rect x="250.38" y="394" width="1.79" height="6.3" fill="#808080"/>
<rect x="253.52" y="394" width="1.79" height="6.3" fill="#808080"/>
<rect x="257.55" y="394" width="0.90" height="6.3" fill="#808080"/>
<rect x="258.89" y="394" width="2.69" height="6.3" fill="#808080"/>
<rect x="262.03" y="394" width="0.90" height="6.3" fill="#808080"/>
<rect x="265.16" y="394" width="1.79" height="6.3" fill="#808080"/>
<rect x="267.40" y="394" width="1.79" height="6.3" fill="#808080"/>
<rect x="269.64" y="394" width="0.90" height="6.3" fill="#808080"/>
<rect x="272.78" y="394" width="2.69" height="6.3" fill="#808080"/>
<rect x="275.91" y="394" width="1.79" height="6.3" fill="#808080"/>
<rect x="279.94" y="394" width="0.90" height="6.3" fill="#808080"/>
<rect x="289.80" y="394" width="1.79" height="6.3" fill="#808080"/>
<rect x="292.04" y="394" width="0.90" height="6.3" fill="#808080"/>
<rect x="295.17" y="394" width="1.79" height="6.3" fill="#808080"/>
<rect x="297.41" y="394" width="2.69" height="6.3" fill="#808080"/>
<rect x="302.34" y="394" width="0.90" height="6.3" fill="#808080"/>
<rect x="303.68" y="394" width="1.79" height="6.3" fill="#808080"/>
<rect x="305.92" y="394" width="1.79" height="6.3" fill="#808080"/>
<rect x="309.95" y="394" width="0.90" height="6.3" fill="#808080"/>
<rect x="311.30" y="394" width="2.69" height="6.3" fill="#808080"/>
<rect x="314.43" y="394" width="0.90" height="6.3" fill="#808080"/>
<rect x="317.57" y="394" width="1.79" height="6.3" fill="#808080"/>
<rect x="319.81" y="394" width="2.69" height="6.3" fill="#808080"/>
<rect x="325.18" y="394" width="2.69" height="6.3" fill="#808080"/>
<rect x="328.32" y="394" width="1.79" height="6.3" fill="#808080"/>
<rect x="332.35" y="394" width="0.90" height="6.3" fill="#808080"/>
<rect x="333.69" y="394" width="2.69" height="6.3" fill="#808080"/>
<rect x="336.83" y="394" width="0.90" height="6.3" fill="#808080"/>
<rect x="339.96" y="394" width="1.79" height="6.3" fill="#808080"/>
<rect x="342.20" y="394" width="2.69" height="6.3" fill="#808080"/>
<rect x="347.58" y="394" width="2.69" height="6.3" fill="#808080"/>
<rect x="350.71" y="394" width="0.90" height="6.3" fill="#808080"/>
<rect x="354.74" y="394" width="0.90" height="6.3" fill="#008000"/>
<rect x="356.09" y="394" width="2.69" height="6.3" fill="#008000"/>
<rect x="359.22" y="394" width="0.90" height="6.3" fill="#008000"/>
<rect x="362.36" y="394" width="1.79" height="6.3" fill="#008000"/>
<rect x="364.60" y="394" width="1.79" height="6.3" fill="#008000"/>
<rect x="366.84" y="394" width="0.90" height="6.3" fill="#008000"/>
<rect x="369.97" y="394" width="2.69" height="6.3" fill="#008000"/>
<rect x="373.11" y="394" width="1.79" height="6.3" fill="#008000"/>
<rect x="377.14" y="394" width="0.90" height="6.3" fill="#008000"/>
<rect x="378.48" y="394" width="1.79" height="6.3" fill="#008000"/>
<rect x="385.65" y="394" width="0.90" height="6.3" fill="#808080"/>
<rect x="386.99" y="394" width="1.79" height="6.3" fill="#808080"/>
<rect x="389.23" y="394" width="0.90" height="6.3" fill="#808080"/>
<rect x="392.37" y="394" width="1.79" height="6.3" fill="#808080"/>
<rect x="394.61" y="394" width="2.69" height="6.3" fill="#808080"/>
<rect x="399.53" y="394" width="0.90" height="6.3" fill="#808080"/>
<rect x="400.88" y="394" width="1.79" height="6.3" fill="#808080"/>
<rect x="403.12" y="394" width="1.79" height="6.3" fill="#808080"/>
<rect x="407.15" y="394" width="0.90" height="6.3" fill="#808080"/>
<rect x="408.49" y="394" width="2.69" height="6.3" fill="#808080"/>
<rect x="411.63" y="394" width="0.90" height="6.3" fill="#808080"/>
<rect x="415.66" y="394" width="0.90" height="6.3" fill="#808080"/>
<rect x="417.00" y="394" width="2.69" height="6.3" fill="#808080"/>
<rect x="422.38" y="394" width="2.69" height="6.3" fill="#808080"/>
<rect x="425.51" y="394" width="1.79" height="6.3" fill="#808080"/>
<rect x="429.54" y="394" width="0.90" height="6.3" fill="#808080"/>
<rect x="430.89" y="394" width="2.69" height="6.3" fill="#808080"/>
<rect x="434.02" y="394" width="0.90" height="6.3" fill="#808080"/>
<rect x="437.16" y="394" width="1.79" height="6.3" fill="#808080"/>
<rect x="439.40" y="394" width="2.69" height="6.3" fill="#ff0000"/>
<rect x="444.77" y="394" width="2.69" height="6.3" fill="#ff0000"/>
<rect x="447.91" y="394" width="1.79" height="6.3" fill="#ff0000"/>
<rect x="451.94" y="394" width="0.90" height="6.3" fill="#ff0000"/>
<rect x="453.28" y="394" width="2.69" height="6.3" fill="#ff0000"/>
<rect x="456.42" y="394" width="0.90" height="6.3" fill="#ff0000"/>
<rect x="459.55" y="394" width="1.79" height="6.3" fill="#ff0000"/>
<rect x="461.79" y="394" width="1.79" height="6.3" fill="#ff0000"/>
<rect x="464.03" y="394" width="0.90" height="6.3" fill="#ff0000"/>
<rect x="467.17" y="394" width="2.69" height="6.3" fill="#ff0000"/>
<rect x="470.30" y="394" width="1.79" height="6.3" fill="#ff0000"/>
<rect x="474.33" y="394" width="0.90" height="6.3" fill="#ff0000"/>
<rect x="475.68" y="394" width="1.79" height="6.3" fill="#ff0000"/>
<rect x="477.92" y="394" width="1.79" height="6.3" fill="#ff0000"/>
<rect x="481.95" y="394" width="1.79" height="6.3" fill="#ff0000"/>
<rect x="484.19" y="394" width="1.79" height="6.3" fill="#ff0000"/>
<rect x="486.43" y="394" width="0.90" height="6.3" fill="#ff0000"/>
<rect x="489.56" y="394" width="2.69" height="6.3" fill="#ff0000"/>
<rect x="492.70" y="394" width="1.79" height="6.3" fill="#ff0000"/>
<rect x="496.73" y="394" width="0.90" height="6.3" fill="#ff0000"/>
<rect x="498.07" y="394" width="1.79" height="6.3" fill="#ff0000"/>
<rect x="500.31" y="394" width="1.79" height="6.3" fill="#ff0000"/>
<rect x="504.34" y="394" width="1.79" height="6.3" fill="#ff0000"/>
<rect x="506.58" y="394" width="1.79" height="6.3" fill="#ff0000"/>
<rect x="508.82" y="394" width="0.90" height="6.3" fill="#ff0000"/>
<rect x="511.96" y="394" width="1.79" height="6.3" fill="#ff0000"/>
<rect x="514.20" y="394" width="1.79" height="6.3" fill="#ff0000"/>
<rect x="515.99" y="394" width="0.90" height="6.3" fill="#808080"/>
<rect x="519.13" y="394" width="0.90" height="6.3" fill="#808080"/>
<rect x="520.47" y="394" width="1.79" height="6.3" fill="#808080"/>
<rect x="522.71" y="394" width="1.79" height="6.3" fill="#808080"/>
<rect x="526.74" y="394" width="0.90" height="6.3" fill="#808080"/>
<rect x="528.08" y="394" width="2.69" height="6.3" fill="#808080"/>
<rect x="531.22" y="394" width="0.90" height="6.3" fill="#808080"/>
<rect x="534.35" y="394" width="1.79" height="6.3" fill="#808080"/>
<rect x="536.59" y="394" width="2.69" height="6.3" fill="#808080"/>
<rect x="541.97" y="394" width="1.79" height="6.3" fill="#808080"/>
<rect x="552.27" y="394" width="0.90" height="6.3" fill="#808080"/>
<rect x="553.61" y="394" width="0.90" height="6.3" fill="#808080"/>
<rect x="556.75" y="394" width="1.79" height="6.3" fill="#808080"/>
<rect x="558.99" y="394" width="2.69" height="6.3" fill="#808080"/>
<rect x="564.36" y="394" width="2.69" height="6.3" fill="#808080"/>
<rect x="567.50" y="394" width="1.79" height="6.3" fill="#808080"/>
<rect x="571.53" y="394" width="0.90" height="6.3" fill="#808080"/>
<rect x="572.87" y="394" width="2.69" height="6.3" fill="#808080"/>
<rect x="576.01" y="394" width="0.90" height="6.3" fill="#808080"/>
<rect x="579.15" y="394" width="1.79" height="6.3" fill="#808080"/>
<rect x="581.38" y="394" width="1.79" height="6.3" fill="#808080"/>
<rect x="583.62" y="394" width="0.90" height="6.3" fill="#808080"/>
<line x1="29.6" y1="365.93" x2="29.6" y2="427.37" stroke="#000" stroke-width="0.58" opacity="0.75"/>
<line x1="610.6" y1="365.93" x2="610.6" y2="427.37" stroke="#000" stroke-width="0.58" opacity="0.8"/>
<line x1="29.33" y1="366.40" x2="610.87" y2="366.40" stroke="#000" stroke-width="0.58" opacity="0.9"/>
<line x1="29.33" y1="427.30" x2="610.87" y2="427.30" stroke="#000" stroke-width="0.58" opacity="0.95"/>
<line x1="56.30" y1="427.1" x2="56.30" y2="429.30" stroke="#000" stroke-width="0.5"/>
<line x1="122.52" y1="427.1" x2="122.52" y2="429.30" stroke="#000" stroke-width="0.5"/>
<line x1="187.66" y1="427.1" x2="187.66" y2="429.30" stroke="#000" stroke-width="0.5"/>
<line x1="252.81" y1="427.1" x2="252.81" y2="429.30" stroke="#000" stroke-width="0.5"/>
<line x1="315.82" y1="427.1" x2="315.82" y2="429.30" stroke="#000" stroke-width="0.5"/>
<line x1="380.97" y1="427.1" x2="380.97" y2="429.30" stroke="#000" stroke-width="0.5"/>
<line x1="446.12" y1="427.1" x2="446.12" y2="429.30" stroke="#000" stroke-width="0.5"/>
<line x1="512.34" y1="427.1" x2="512.34" y2="429.30" stroke="#000" stroke-width="0.5"/>
<line x1="577.48" y1="427.1" x2="577.48" y2="429.30" stroke="#000" stroke-width="0.5"/>
<text x="56.10" y="437.6" font-size="7" text-anchor="middle" fill="#000" opacity="0.78" textLength="20.7" lengthAdjust="spacingAndGlyphs">2024-07</text>
<text x="122.32" y="437.6" font-size="7" text-anchor="middle" fill="#000" opacity="0.78" textLength="20.7" lengthAdjust="spacingAndGlyphs">2024-09</text>
<text x="187.46" y="437.6" font-size="7" text-anchor="middle" fill="#000" opacity="0.78" textLength="20.7" lengthAdjust="spacingAndGlyphs">2024-11</text>
<text x="252.61" y="437.6" font-size="7" text-anchor="middle" fill="#000" opacity="0.78" textLength="20.7" lengthAdjust="spacingAndGlyphs">2025-01</text>
<text x="315.62" y="437.6" font-size="7" text-anchor="middle" fill="#000" opacity="0.78" textLength="20.7" lengthAdjust="spacingAndGlyphs">2025-03</text>
<text x="380.77" y="437.6" font-size="7" text-anchor="middle" fill="#000" opacity="0.78" textLength="20.7" lengthAdjust="spacingAndGlyphs">2025-05</text>
<text x="445.92" y="437.6" font-size="7" text-anchor="middle" fill="#000" opacity="0.78" textLength="20.7" lengthAdjust="spacingAndGlyphs">2025-07</text>
<text x="512.14" y="437.6" font-size="7" text-anchor="middle" fill="#000" opacity="0.78" textLength="20.7" lengthAdjust="spacingAndGlyphs">2025-09</text>
<text x="577.28" y="437.6" font-size="7" text-anchor="middle" fill="#000" opacity="0.78" textLength="20.7" lengthAdjust="spacingAndGlyphs">2025-11</text>
<use href="#g_qu" transform="translate(305.50,355.70) scale(0.6900)" opacity="0.7"/><use href="#g_shi" transform="translate(313.00,355.70) scale(0.6900)" opacity="0.7"/><use href="#g_fen" transform="translate(320.50,355.70) scale(0.6900)" opacity="0.7"/><use href="#g_lei" transform="translate(328.00,355.70) scale(0.6900)" opacity="0.7"/>
</svg></body></html>
